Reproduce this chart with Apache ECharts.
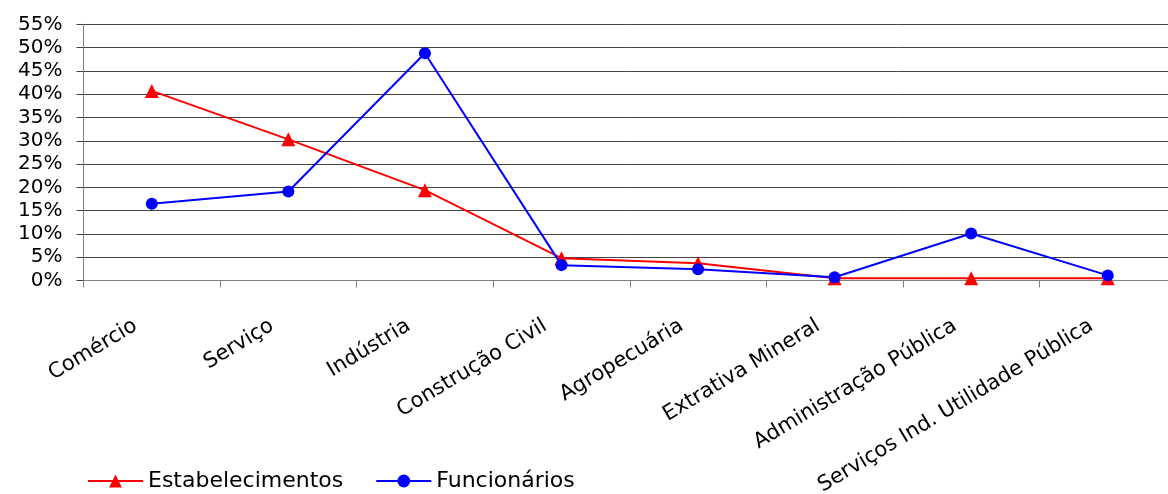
<!DOCTYPE html>
<html>
<head>
<meta charset="utf-8">
<script src="https://cdn.jsdelivr.net/npm/echarts@6/dist/echarts.min.js"></script>
<style>
html,body{margin:0;padding:0;background:#fff;}
#chart{width:1168px;height:494px;}
</style>
</head>
<body>
<div id="chart"></div>
<script>
const categories = ['Comércio', 'Serviço', 'Indústria', 'Construção Civil', 'Agropecuária', 'Extrativa Mineral', 'Administração Pública', 'Serviços Ind. Utilidade Pública'];
const estabelecimentos = [40.7, 30.3, 19.4, 4.8, 3.7, 0.5, 0.5, 0.5];
const funcionarios = [16.5, 19.1, 48.8, 3.3, 2.4, 0.7, 10.1, 1.1];
const yMin = 0, yMax = 55, yStep = 5;

const FONT = 'DejaVu Sans';
const chart = echarts.init(document.getElementById('chart'), null, {renderer: 'canvas'});
chart.setOption({
  animation: false,
  backgroundColor: '#ffffff',
  textStyle: {fontFamily: FONT, color: '#000'},
  grid: {left: 83.5, right: -8, top: 24.3, bottom: 213.5, containLabel: false, outerBoundsMode: 'none'},
  legend: {
    left: 87, top: 470, padding: 0, itemWidth: 55, itemHeight: 16, itemGap: 32,
    textStyle: {fontFamily: FONT, fontSize: 22, color: '#000'},
    data: ['Estabelecimentos', 'Funcionários']
  },
  xAxis: {
    type: 'category', data: categories, boundaryGap: true,
    axisLine: {show: true, lineStyle: {color: '#808080', width: 1}},
    axisTick: {show: true, length: 7, alignWithLabel: false, interval: 0, lineStyle: {color: '#808080'}},
    axisLabel: {interval: 0, rotate: 31, margin: 34, padding: [0, 19, 0, 0], fontFamily: FONT, fontSize: 21, color: '#000'},
    splitLine: {show: false}
  },
  yAxis: {
    type: 'value', min: yMin, max: yMax, interval: yStep,
    axisLine: {show: true, lineStyle: {color: '#808080', width: 1}},
    axisTick: {show: true, length: 7, lineStyle: {color: '#444'}},
    axisLabel: {formatter: '{value}%', margin: 21, fontFamily: FONT, fontSize: 20, color: '#000'},
    splitLine: {show: true, lineStyle: {color: '#444', width: 1}}
  },
  series: [
    {
      name: 'Estabelecimentos', type: 'line', data: estabelecimentos,
      symbol: 'triangle', symbolSize: [14, 14], showSymbol: true,
      itemStyle: {color: '#ff0000'}, lineStyle: {color: '#ff0000', width: 2}, z: 2
    },
    {
      name: 'Funcionários', type: 'line', data: funcionarios,
      symbol: 'circle', symbolSize: 12, showSymbol: true,
      itemStyle: {color: '#0000ff'}, lineStyle: {color: '#0000ff', width: 2}, z: 3
    }
  ]
});
</script>
</body>
</html>
